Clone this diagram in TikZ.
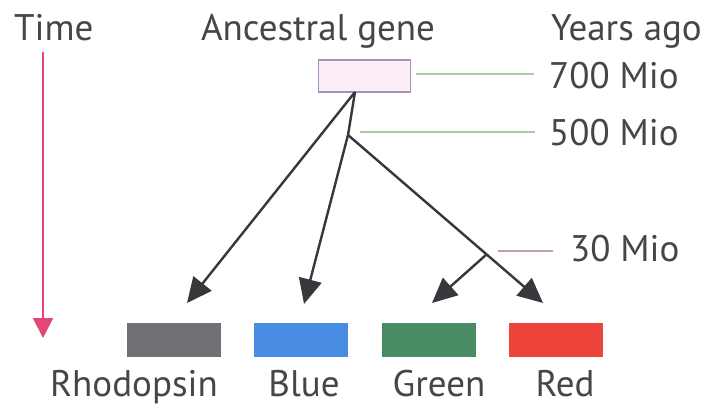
\documentclass[tikz,border=0pt]{standalone}
\usepackage{fontspec}
\setmainfont{PT Sans}
\usetikzlibrary{arrows.meta}
\definecolor{txt}{RGB}{70,70,72}
\definecolor{arr}{RGB}{55,55,60}
\definecolor{pinkarr}{RGB}{228,70,120}
\definecolor{glin}{RGB}{170,205,160}
\definecolor{plin}{RGB}{195,160,160}
\definecolor{gboxc}{RGB}{112,112,118}
\definecolor{bboxc}{RGB}{72,140,228}
\definecolor{grboxc}{RGB}{72,140,100}
\definecolor{rboxc}{RGB}{236,68,56}
\definecolor{ancfill}{RGB}{252,238,246}
\definecolor{ancdraw}{RGB}{165,145,185}
\tikzset{
  lbl/.style={text=txt, font=\fontsize{37}{40}\selectfont, inner sep=0pt},
  tree/.style={draw=arr, line width=2.4pt},
  treearrow/.style={tree, -{Triangle[length=25pt,width=23pt]}},
  gene/.style={minimum width=94pt, minimum height=34pt, inner sep=0pt, draw=none},
  tick/.style={line width=1.6pt}
}
\begin{document}
\begin{tikzpicture}[x=1pt,y=-1pt]
\useasboundingbox (0,0) rectangle (708,408);
\fill[white] (0,0) rectangle (708,408);
% headers
\node[lbl, anchor=base west] (time) at (14,40) {Time};
\node[lbl, anchor=base] (anc) at (318,40) {Ancestral gene};
\node[lbl, anchor=base east] (years) at (702,40) {Years ago};
% time arrow
\coordinate (tstart) at (43,52);
\coordinate (tend) at (43,338);
\draw[pinkarr, line width=2pt, -{Triangle[length=20pt,width=20pt]}] (tstart) -- (tend);
% ancestral box
\node[draw=ancdraw, fill=ancfill, line width=1.2pt, minimum width=92pt, minimum height=32pt, inner sep=0pt] (box) at (364.5,76) {};
\coordinate (root) at (355,92);
\coordinate (n500) at (348,135);
\coordinate (n30) at (487,254);
% year labels
\node[lbl, anchor=west] (y700) at (549,76) {700 Mio};
\node[lbl, anchor=west] (y500) at (549,133) {500 Mio};
\node[lbl, anchor=west] (y30) at (570,249) {30 Mio};
\coordinate (l700a) at (416,74);
\coordinate (l700b) at (534,74);
\coordinate (l500a) at (360,132);
\coordinate (l500b) at (535,132);
\coordinate (l30a) at (498,251);
\coordinate (l30b) at (553,251);
\draw[glin, tick] (l700a) -- (l700b);
\draw[glin, tick] (l500a) -- (l500b);
\draw[plin, tick] (l30a) -- (l30b);
% gene boxes
\node[gene, fill=gboxc] (rho) at (173.5,340) {};
\node[gene, fill=bboxc] (blue) at (301,340) {};
\node[gene, fill=grboxc] (green) at (429,340) {};
\node[gene, fill=rboxc] (red) at (555.5,340) {};
\coordinate (trho) at (187,303);
\coordinate (tblue) at (304,304);
\coordinate (tgreen) at (432,303);
\coordinate (tred) at (543,303);
% tree
\draw[tree] (root) -- (n500);
\draw[treearrow] (root) -- (trho);
\draw[treearrow] (n500) -- (tblue);
\draw[treearrow] (n500) -- (tred);
\draw[treearrow] (n30) -- (tgreen);
% bottom labels
\node[lbl, anchor=base] (lrho) at (134,396) {Rhodopsin};
\node[lbl, anchor=base] (lblue) at (304,396) {Blue};
\node[lbl, anchor=base] (lgreen) at (439,396) {Green};
\node[lbl, anchor=base] (lred) at (565,396) {Red};
\end{tikzpicture}
\end{document}
